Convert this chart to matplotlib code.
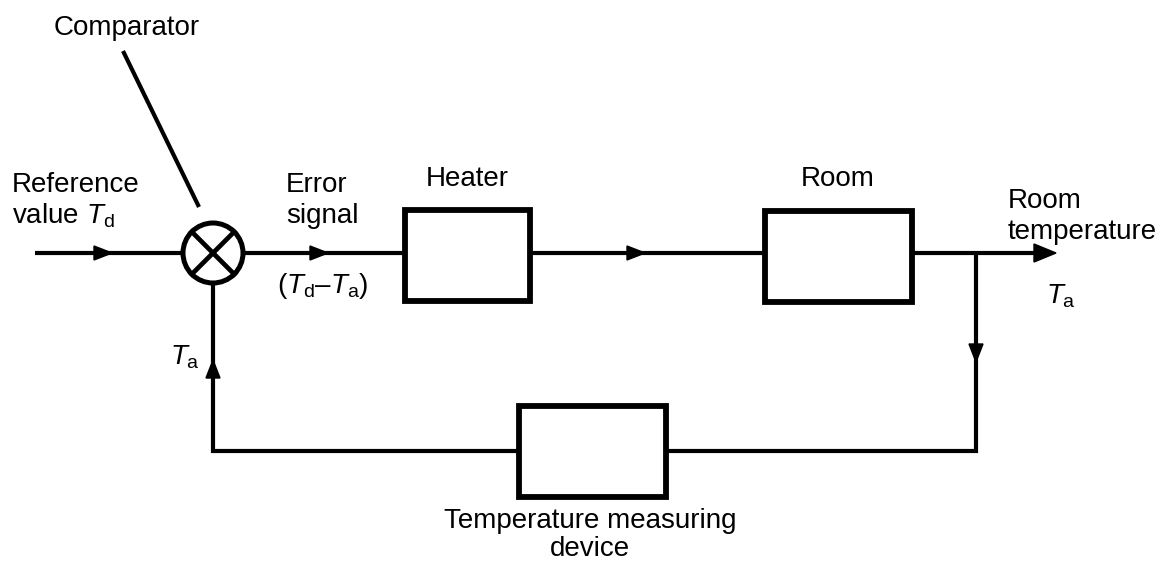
import matplotlib.pyplot as plt
from matplotlib.patches import Rectangle, Circle, Polygon

plt.rcParams['font.family'] = ['Liberation Sans', 'DejaVu Sans']
plt.rcParams['mathtext.fontset'] = 'custom'
plt.rcParams['mathtext.rm'] = 'Liberation Sans'
plt.rcParams['mathtext.it'] = 'Liberation Sans:italic'

# blocks: label and box (x0, y0, x1, y1) in pixel units of the picture
block_labels = ['Heater', 'Room', 'Temperature measuring', 'device']
block_boxes = [(405, 210, 530, 301), (765, 211, 912, 302), (519, 406, 666, 497)]

y_main = 253
x_branch = 976
y_feed = 451
cx, cy, r = 213, 253, 30

fig = plt.figure(figsize=(11.74, 5.68), dpi=100)
ax = fig.add_axes([0, 0, 1, 1])
ax.set_xlim(0, 1174)
ax.set_ylim(568, 0)
ax.axis('off')

lw = 3.0
k = 'black'


def line(xs, ys, w=lw):
    ax.plot(xs, ys, color=k, lw=w, solid_capstyle='butt', solid_joinstyle='miter', zorder=2)


def arrow(x, y, d, L=18, W=7):
    if d == 'r':
        pts = [(x, y), (x - L, y - W), (x - L, y + W)]
    elif d == 'd':
        pts = [(x, y), (x - W, y - L), (x + W, y - L)]
    else:
        pts = [(x, y), (x - W, y + L), (x + W, y + L)]
    ax.add_patch(Polygon(pts, closed=True, color=k, zorder=5))


# forward path
line([35, cx - r], [y_main, y_main])
arrow(112, y_main, 'r')
line([cx + r, 405], [y_main, y_main])
arrow(328, y_main, 'r')
line([530, 765], [y_main, y_main])
arrow(645, y_main, 'r')
line([912, 1040], [y_main, y_main])
arrow(1056, y_main, 'r', L=22, W=9)

# feedback path (one polyline so corners join)
line([x_branch, x_branch, cx, cx], [y_main, y_feed, y_feed, cy + r])
arrow(x_branch, 362, 'd')
arrow(cx, 360, 'u')

# boxes drawn on top of the lines
for (x0, y0, x1, y1) in block_boxes:
    ax.add_patch(Rectangle((x0, y0), x1 - x0, y1 - y0, fc='white', ec=k, lw=4.2, zorder=3))

# comparator
ax.add_patch(Circle((cx, cy), r, fc='white', ec=k, lw=3.6, zorder=3))
d = r * 0.707
ax.plot([cx - d, cx + d], [cy - d, cy + d], color=k, lw=3.4, zorder=4)
ax.plot([cx - d, cx + d], [cy + d, cy - d], color=k, lw=3.4, zorder=4)
line([123, 199], [51, 207], 3.0)

fs = 20
ax.text(127, 28, 'Comparator', fontsize=fs, ha='center', va='center')
ax.text(12, 185, 'Reference', fontsize=fs, ha='left', va='center')
ax.text(12, 216, r'value $T_\mathrm{d}$', fontsize=fs, ha='left', va='center')
ax.text(286, 185, 'Error', fontsize=fs, ha='left', va='center')
ax.text(286, 216, 'signal', fontsize=fs, ha='left', va='center')
ax.text(277, 286, r'($T_\mathrm{d}$–$T_\mathrm{a}$)', fontsize=fs, ha='left', va='center')
ax.text(467, 179, block_labels[0], fontsize=fs, ha='center', va='center')
ax.text(838, 179, block_labels[1], fontsize=fs, ha='center', va='center')
ax.text(590, 521, block_labels[2], fontsize=fs, ha='center', va='center')
ax.text(590, 549, block_labels[3], fontsize=fs, ha='center', va='center')
ax.text(1008, 201, 'Room', fontsize=fs, ha='left', va='center')
ax.text(1008, 232, 'temperature', fontsize=fs, ha='left', va='center')
ax.text(1046, 296, r'$T_\mathrm{a}$', fontsize=fs, ha='left', va='center')
ax.text(170, 357, r'$T_\mathrm{a}$', fontsize=fs, ha='left', va='center')

fig.savefig('out.png', dpi=100, facecolor='white')
